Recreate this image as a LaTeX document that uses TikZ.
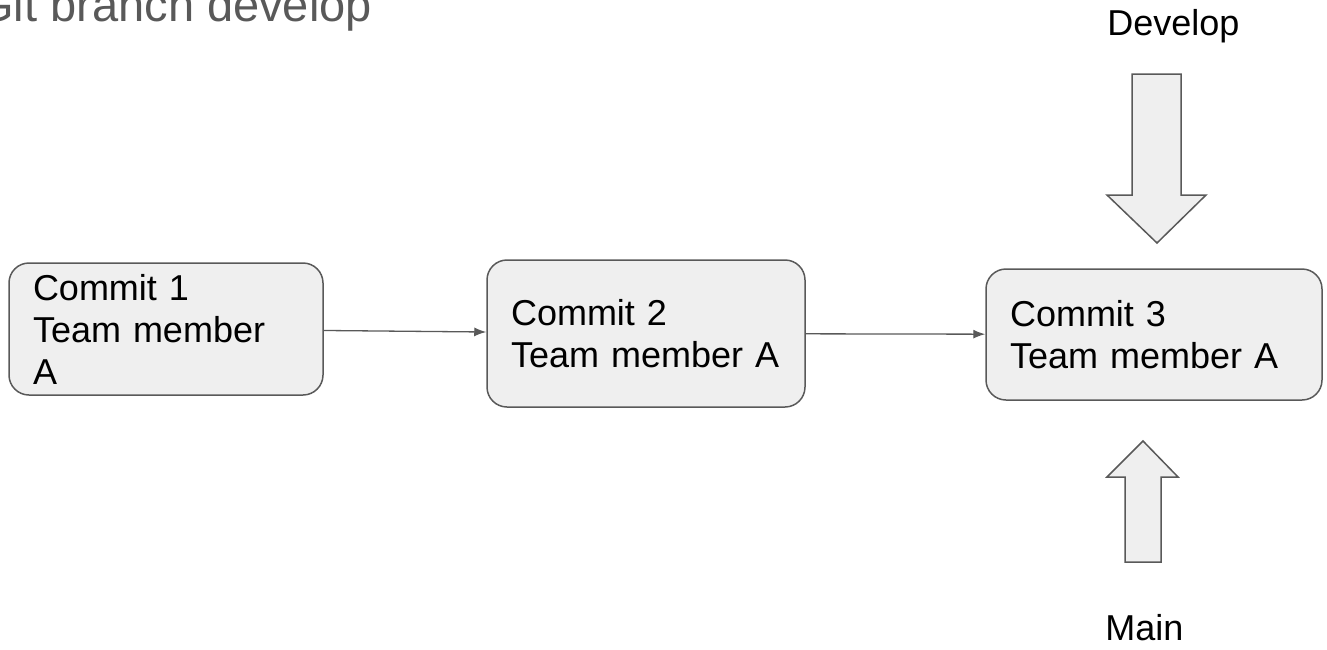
\documentclass[tikz,border=0pt]{standalone}
\usepackage{fontspec}
\setmainfont{Liberation Sans}
\usetikzlibrary{arrows.meta}
\definecolor{linegray}{HTML}{595959}
\definecolor{boxfill}{HTML}{EFEFEF}
\tikzset{
  commit/.style={draw=linegray, fill=boxfill, line width=0.75pt, rounded corners=10pt,
    align=left, inner xsep=12pt, inner ysep=0pt, font=\fontsize{18}{21}\selectfont},
  link/.style={draw=linegray, line width=0.65pt, -{Latex[length=6pt,width=4.5pt]}},
  bigarrow/.style={draw=linegray, fill=boxfill, line width=0.75pt},
  label/.style={anchor=base west, inner sep=0pt, font=\fontsize{18}{21}\selectfont}
}
\begin{document}
\begin{tikzpicture}[x=0.5pt, y=-0.5pt]
            \useasboundingbox (0,0) rectangle (1327,649);
            % title
            \node[label, text=linegray, font=\fontsize{23.5}{27}\selectfont] (title) at (-23,21) {Git branch develop};

            % commits
            \node[commit, text width=133pt, minimum height=66pt] (c1) at (166,329) {Commit 1\\Team member\\A};
            \node[commit, text width=135pt, minimum height=73.5pt] (c2) at (646,333.5) {Commit 2\\Team member A};
            \node[commit, text width=144pt, minimum height=65.5pt] (c3) at (1154,334.5) {Commit 3\\Team member A};

            \draw[link] (c1) -- (c2);
            \draw[link] (c2) -- (c3);

            % branch pointers
            \node[label] (develop) at (1107,35) {Develop};
            \draw[bigarrow] (1132,74) -- (1181,74) -- (1181,195) -- (1206,195) -- (1157,243)
                -- (1107,195) -- (1132,195) -- cycle;

            \draw[bigarrow] (1125,562) -- (1161,562) -- (1161,477) -- (1178,477) -- (1143,441)
                -- (1107,477) -- (1125,477) -- cycle;
            \node[label] (main) at (1105,640) {Main};
    	\end{tikzpicture}
\end{document}
